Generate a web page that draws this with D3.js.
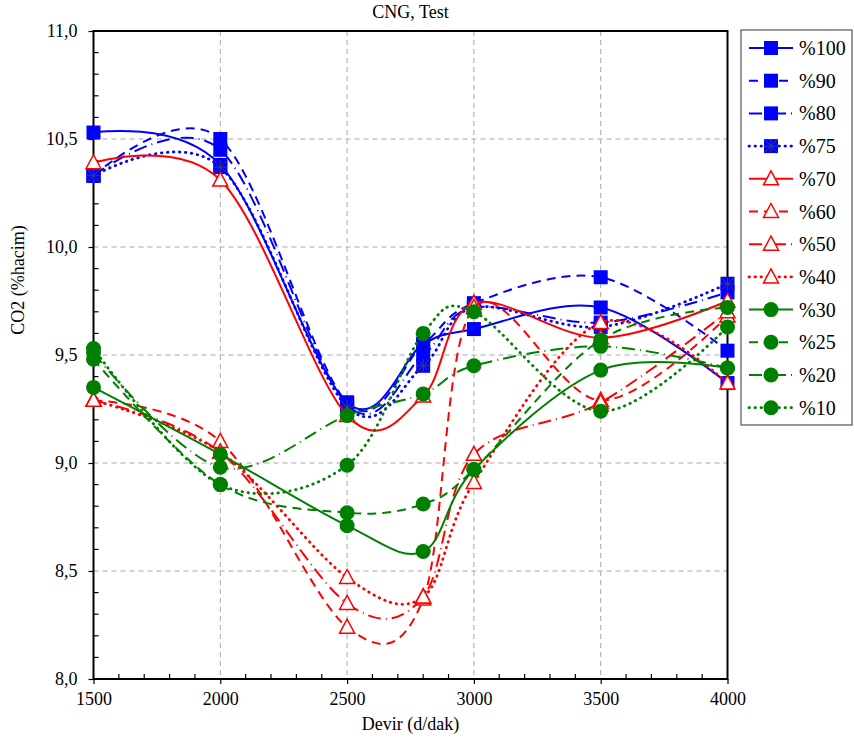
<!DOCTYPE html>
<html><head><meta charset="utf-8">
<script src="https://cdn.jsdelivr.net/npm/d3@7"></script>
</head><body style="margin:0;background:#fff"><svg id="c" width="854" height="744"></svg>
<script>
const xValues = [1500, 2000, 2500, 2800, 3000, 3500, 4000];
const seriesNames = ["%100","%90","%80","%75","%70","%60","%50","%40","%30","%25","%20","%10"];
const s100 = [10.53, 10.38, 9.28, 9.55, 9.62, 9.72, 9.37];
const s90  = [10.33, 10.50, 9.28, 9.55, 9.74, 9.86, 9.52];
const s80  = [10.33, 10.45, 9.27, 9.50, 9.72, 9.65, 9.79];
const s75  = [10.33, 10.37, 9.26, 9.45, 9.72, 9.63, 9.83];
const s70  = [10.39, 10.31, 9.22, 9.31, 9.74, 9.58, 9.75];
const s60  = [9.29, 9.10, 8.24, 8.37, 9.72, 9.29, 9.68];
const s50  = [9.29, 9.05, 8.35, 8.38, 9.04, 9.28, 9.70];
const s40  = [9.29, 9.05, 8.47, 8.38, 8.91, 9.65, 9.37];
const s30  = [9.35, 9.04, 8.71, 8.59, 8.97, 9.43, 9.44];
const s25  = [9.48, 8.90, 8.77, 8.81, 8.97, 9.57, 9.72];
const s20  = [9.51, 8.98, 9.22, 9.32, 9.45, 9.54, 9.44];
const s10  = [9.53, 8.90, 8.99, 9.60, 9.70, 9.24, 9.63];
const seriesValues = [s100,s90,s80,s75,s70,s60,s50,s40,s30,s25,s20,s10];
const xTicks = [1500, 2000, 2500, 3000, 3500, 4000];
const yTicks = [8.0, 8.5, 9.0, 9.5, 10.0, 10.5, 11.0];
const title = "CNG, Test", xTitle = "Devir (d/dak)", yTitle = "CO2 (%hacim)";

const FONT = "Liberation Serif";
const FS = 18;
const colors = {b:"#0000ff", r:"#ff0000", g:"#008000"};
const styleOf = i => {
  const col = i<4 ? colors.b : (i<8 ? colors.r : colors.g);
  const marker = i<4 ? "square" : (i<8 ? "triangle" : "circle");
  const d = ["", "9,6", "13,5,1,5", "0.5,5.5"][i%4];
  return {col, marker, dash:d, star: i===3};
};

const svg = d3.select("#c");
const L=93.5, R=727.5, T=31, B=679;
const x = d3.scaleLinear().domain([1500,4000]).range([L,R]);
const y = d3.scaleLinear().domain([8,11]).range([B,T]);

const g = svg.append("g");
g.selectAll(".gx").data(xTicks.slice(1,-1)).enter().append("line")
 .attr("x1",d=>x(d)).attr("x2",d=>x(d)).attr("y1",T).attr("y2",B)
 .attr("stroke","#a8a8a8").attr("stroke-dasharray","5,4").attr("stroke-width",1);
g.selectAll(".gy").data(yTicks.slice(1,-1)).enter().append("line")
 .attr("x1",L).attr("x2",R).attr("y1",d=>y(d)).attr("y2",d=>y(d))
 .attr("stroke","#a8a8a8").attr("stroke-dasharray","5,4").attr("stroke-width",1);

const fmt = d => d3.format(".1f")(d).replace(".",",");
const yAx = d3.axisLeft(y).tickValues(yTicks).tickFormat(fmt).tickSize(5).tickPadding(11);
const ya = svg.append("g").attr("transform",`translate(${L},0)`).call(yAx);
ya.select(".domain").remove();
ya.attr("font-family",FONT).attr("font-size",FS);
ya.selectAll("text").attr("font-family",FONT).attr("font-size",FS).attr("fill","#000");
ya.selectAll("line").attr("stroke","#000").attr("stroke-width",1.2);
const yMinor = d3.range(80,111).map(v=>v/10).filter(v=>Math.abs(v*2-Math.round(v*2))>1e-6);
svg.append("g").selectAll("line").data(yMinor).enter().append("line")
 .attr("x1",L).attr("x2",L+5).attr("y1",d=>y(d)).attr("y2",d=>y(d)).attr("stroke","#000").attr("stroke-width",1.2);

const xAx = d3.axisBottom(x).tickValues(xTicks).tickFormat(d3.format("d")).tickSize(5).tickPadding(8);
const xa = svg.append("g").attr("transform",`translate(0,${B})`).call(xAx);
xa.select(".domain").remove();
xa.attr("font-family",FONT).attr("font-size",FS);
xa.selectAll("text").attr("font-family",FONT).attr("font-size",FS).attr("fill","#000");
xa.selectAll("line").attr("stroke","#000").attr("stroke-width",1.2);
const xMinor = d3.range(1500,4001,100).filter(v=>v%500!==0);
svg.append("g").selectAll("line").data(xMinor).enter().append("line")
 .attr("x1",d=>x(d)).attr("x2",d=>x(d)).attr("y1",B).attr("y2",B-5).attr("stroke","#000").attr("stroke-width",1.2);

svg.append("rect").attr("x",L).attr("y",T).attr("width",R-L).attr("height",B-T)
 .attr("fill","none").attr("stroke","#000").attr("stroke-width",2);

function txt(sel, fs){ return sel.attr("font-family",FONT).attr("font-size",fs||FS).attr("fill","#000"); }
txt(svg.append("text").attr("x",(L+R)/2).attr("y",18).attr("text-anchor","middle")).text(title);
txt(svg.append("text").attr("x",(L+R)/2).attr("y",730).attr("text-anchor","middle")).text(xTitle);
txt(svg.append("text").attr("transform","translate(24,280) rotate(-90)").attr("text-anchor","middle")).text(yTitle);

function drawMarker(sel, st, cx, cy){
  if(st.marker==="square"){
    sel.append("rect").attr("x",cx-7).attr("y",cy-7).attr("width",14).attr("height",14).attr("fill",st.col);
    if(st.star){
      const gg = sel.append("g").attr("stroke","#3a3a7a").attr("stroke-width",1);
      [[-6,-6,6,6],[-6,6,6,-6],[0,-7,0,7],[-7,0,7,0]].forEach(p=>gg.append("line")
        .attr("x1",cx+p[0]).attr("y1",cy+p[1]).attr("x2",cx+p[2]).attr("y2",cy+p[3]));
    }
  } else if(st.marker==="triangle"){
    sel.append("path").attr("d",`M${cx},${cy-8}L${cx+7.5},${cy+6}L${cx-7.5},${cy+6}Z`)
      .attr("fill","#fff").attr("stroke",st.col).attr("stroke-width",1.5);
  } else {
    sel.append("circle").attr("cx",cx).attr("cy",cy).attr("r",7.5).attr("fill",st.col);
  }
}

const line = d3.line().x(d=>x(d[0])).y(d=>y(d[1])).curve(d3.curveCardinal.tension(0));
const plot = svg.append("g");
seriesValues.forEach((vals,i)=>{
  const st = styleOf(i);
  const pts = xValues.map((xv,j)=>[xv,vals[j]]);
  const sg = plot.append("g");
  sg.append("path").attr("d",line(pts)).attr("fill","none").attr("stroke",st.col)
    .attr("stroke-width", st.dash==="0.5,5.5"?2.8:2).attr("stroke-dasharray",st.dash||null)
    .attr("stroke-linecap", st.dash==="0.5,5.5"?"round":"butt");
  pts.forEach(p=>drawMarker(sg, st, x(p[0]), y(p[1])));
});

const lg = svg.append("g");
lg.append("rect").attr("x",741).attr("y",30).attr("width",111).attr("height",395)
  .attr("fill","#fff").attr("stroke","#333").attr("stroke-width",1);
seriesNames.forEach((nm,i)=>{
  const st = styleOf(i);
  const cy = 48 + i*32.7;
  lg.append("line").attr("x1",749).attr("x2",793).attr("y1",cy).attr("y2",cy)
    .attr("stroke",st.col).attr("stroke-width", st.dash==="0.5,5.5"?2.8:2)
    .attr("stroke-dasharray",st.dash||null).attr("stroke-linecap", st.dash==="0.5,5.5"?"round":"butt");
  drawMarker(lg, st, 771, cy);
  txt(lg.append("text").attr("x",799).attr("y",cy+7), 20).text(nm);
});
</script></body></html>
